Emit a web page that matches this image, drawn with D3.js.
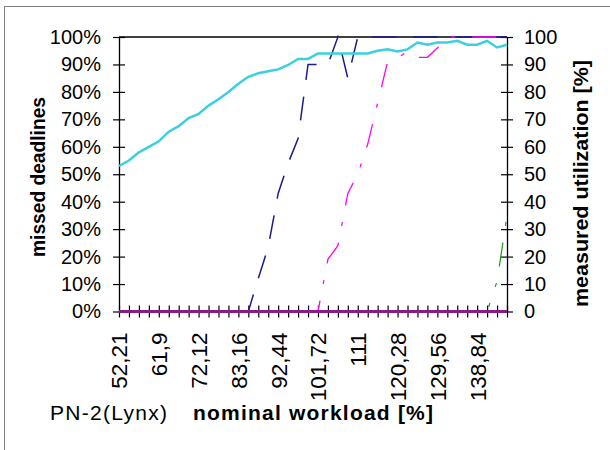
<!DOCTYPE html>
<html>
<head>
<meta charset="utf-8">
<script src="https://cdn.jsdelivr.net/npm/d3@7"></script>
<style>
  body { margin: 0; background: #fff; }
  text { font-family: "Liberation Sans", Arial, sans-serif; fill: #000; }
</style>
</head>
<body>
<div id="chart"></div>
<script>
// Data
const categories = ["52,21","54,63","57,05","59,47","61,9","64,46","67,01","69,57","72,12","74,88",
  "77,64","80,4","83,16","85,48","87,8","90,12","92,44","94,76","97,08","99,4",
  "101,72","104,04","106,36","108,68","111","113,32","115,64","117,96","120,28","122,6",
  "124,92","127,24","129,56","131,88","134,2","136,52","138,84","141,16","143,48","145,8"];

const utilization = [53,55,58,60,62,65.5,67.5,70.5,72,75,
  77.3,80,83,85.5,86.8,87.5,88.2,89.8,92,92,
  94,94,94,94,94,94,95,95.5,94.7,95.5,
  98,97.2,98,98,98.6,97.2,97.2,98.6,96.2,97.2];

const missedA = [0,0,0,0,0,0,0,0,0,0,
  0,0,0,0,12,23.5,43,54,63,90,
  90,90,100,85,100,100,100,100,100,100,
  100,100,100,100,100,100,100,100,100,100];

const missedB = [0,0,0,0,0,0,0,0,0,0,
  0,0,0,0,0,0,0,0,0,0,
  0,19,24,43,50,61,76,91,92.3,94.8,
  92.6,92.6,96,100,100,100,100,100,100,100];

const missedC = [0,0,0,0,0,0,0,0,0,0,
  0,0,0,0,0,0,0,0,0,0,
  0,0,0,0,0,0,0,0,0,0,
  0,0,0,0,0,0,0,0,11,35];

const missedD = [0,0,0,0,0,0,0,0,0,0,
  0,0,0,0,0,0,0,0,0,0,
  0,0,0,0,0,0,0,0,0,0,
  0,0,0,0,0,0,0,0,0,0];

const leftTicks = [0,10,20,30,40,50,60,70,80,90,100];

// Layout
const width = 610, height = 450;
const plot = { left: 119, right: 507, top: 37, bottom: 311.5 };

const svg = d3.select("#chart").append("svg")
  .attr("width", width)
  .attr("height", height);

// chart frame
svg.append("rect")
  .attr("x", 4.5).attr("y", 6.5)
  .attr("width", 700).attr("height", 500)
  .attr("fill", "none")
  .attr("stroke", "#808080");

var x = d3.scalePoint().domain(categories).range([plot.left, plot.right]);
var y = d3.scaleLinear().domain([0, 100]).range([plot.bottom, plot.top]);

// top border of plot area
svg.append("line")
  .attr("x1", plot.left).attr("x2", plot.right)
  .attr("y1", plot.top).attr("y2", plot.top)
  .attr("stroke", "#000").attr("stroke-width", 1.3);

// left axis
var gLeft = svg.append("g")
  .attr("transform", "translate(" + plot.left + ",0)")
  .call(d3.axisLeft(y).tickValues(leftTicks).tickFormat(d => d + "%")
    .tickSizeInner(6).tickSizeOuter(0).tickPadding(12));
gLeft.selectAll(".tick line").attr("x1", 6);
gLeft.selectAll("text").style("font-size", "20px");

// right axis
var gRight = svg.append("g")
  .attr("transform", "translate(" + plot.right + ",0)")
  .call(d3.axisRight(y).tickValues(leftTicks)
    .tickSizeInner(6).tickSizeOuter(0).tickPadding(11));
gRight.selectAll(".tick line").attr("x1", -6);
gRight.selectAll("text").style("font-size", "20px");

// bottom axis, label on every 4th category
var gBottom = svg.append("g")
  .attr("transform", "translate(0," + plot.bottom + ")")
  .call(d3.axisBottom(x).tickFormat((d, i) => i % 4 === 0 ? d : "")
    .tickSizeInner(6).tickSizeOuter(0));
gBottom.selectAll(".tick line").attr("y1", -6);
gBottom.selectAll("text")
  .style("font-size", "22.5px")
  .attr("text-anchor", "end")
  .attr("transform", "rotate(-90)")
  .attr("x", -21)
  .attr("y", 0)
  .attr("dy", "0.35em");

svg.selectAll(".domain").attr("stroke", "#000").attr("stroke-width", 1.3);
svg.selectAll(".tick line").attr("stroke", "#000").attr("stroke-width", 1.2);

// series
var line = d3.line()
  .x((d, i) => x(categories[i]))
  .y(d => y(d));

var series = [
  { values: missedA, color: "#1c1c8c", width: 1.5, dash: "24,17" },
  { values: missedB, color: "#ff00ff", width: 1.3, dash: "24,17,4,17" },
  { values: missedC, color: "#1a9a1a", width: 1.2, dash: "24,17,4,17,4,17" },
  { values: missedD, color: "#8a1a8a", width: 3, dash: null },
  { values: utilization, color: "#3ccfe0", width: 2.5, dash: null }
];

series.forEach(s => {
  svg.append("path")
    .datum(s.values)
    .attr("d", line)
    .attr("fill", "none")
    .attr("stroke", s.color)
    .attr("stroke-width", s.width)
    .attr("stroke-dasharray", s.dash);
});

// titles
svg.append("text")
  .attr("transform", "translate(44.5,177) rotate(-90)")
  .attr("text-anchor", "middle")
  .attr("textLength", 160).attr("lengthAdjust", "spacingAndGlyphs")
  .style("font-size", "20px").style("font-weight", "bold")
  .text("missed deadlines");

svg.append("text")
  .attr("transform", "translate(588,183.5) rotate(-90)")
  .attr("text-anchor", "middle")
  .attr("textLength", 247).attr("lengthAdjust", "spacingAndGlyphs")
  .style("font-size", "20px").style("font-weight", "bold")
  .text("measured utilization [%]");

svg.append("text")
  .attr("x", 50).attr("y", 420)
  .attr("textLength", 117).attr("lengthAdjust", "spacing")
  .style("font-size", "21px")
  .text("PN-2(Lynx)");

svg.append("text")
  .attr("x", 193).attr("y", 420)
  .attr("textLength", 240).attr("lengthAdjust", "spacing")
  .style("font-size", "21px").style("font-weight", "bold")
  .text("nominal workload [%]");
</script>
</body>
</html>
